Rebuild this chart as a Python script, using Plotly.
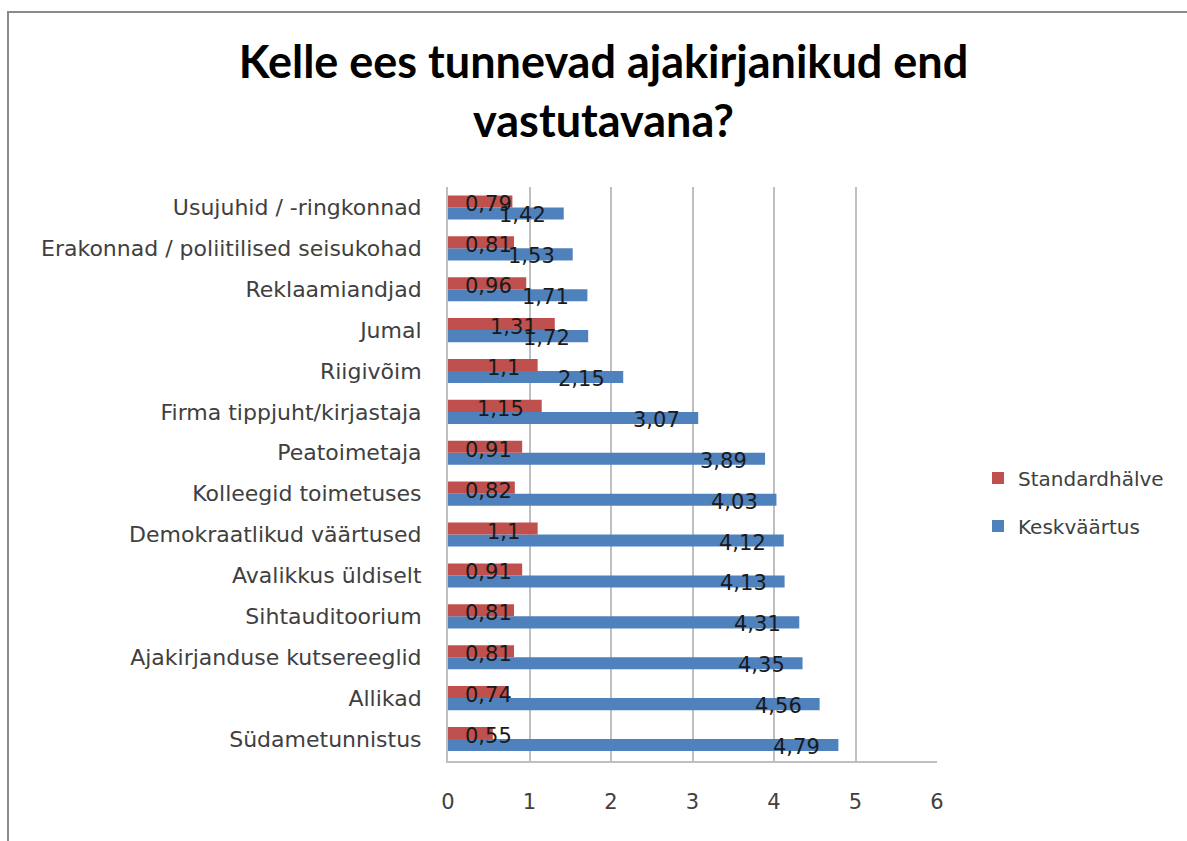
import plotly.graph_objects as go

categories = [
    "Südametunnistus",
    "Allikad",
    "Ajakirjanduse kutsereeglid",
    "Sihtauditoorium",
    "Avalikkus üldiselt",
    "Demokraatlikud väärtused",
    "Kolleegid toimetuses",
    "Peatoimetaja",
    "Firma tippjuht/kirjastaja",
    "Riigivõim",
    "Jumal",
    "Reklaamiandjad",
    "Erakonnad / poliitilised seisukohad",
    "Usujuhid / -ringkonnad",
]
keskvaartus = [4.79, 4.56, 4.35, 4.31, 4.13, 4.12, 4.03, 3.89, 3.07, 2.15, 1.72, 1.71, 1.53, 1.42]
standardhalve = [0.55, 0.74, 0.81, 0.81, 0.91, 1.1, 0.82, 0.91, 1.15, 1.1, 1.31, 0.96, 0.81, 0.79]
x_ticks = [0, 1, 2, 3, 4, 5, 6]

title_text = "Kelle ees tunnevad ajakirjanikud end<br>vastutavana?"

RED = "#C0504D"
BLUE = "#4F81BD"
GRID = "#BFBFBF"
TXT = "#404040"
FONT = "DejaVu Sans"

W, H = 1187, 841
ML, MR, MT, MB = 448, 250, 187, 80
PW, PH = W - ML - MR, H - MT - MB

def fmt(v):
    return f"{v:g}".replace(".", ",")

fig = go.Figure()
fig.add_trace(go.Bar(
    y=categories, x=keskvaartus, orientation="h", name="Keskväärtus",
    marker=dict(color=BLUE, line=dict(width=0)), legendgroup="b", legendrank=2,
    hoverinfo="x+y",
))
fig.add_trace(go.Bar(
    y=categories, x=standardhalve, orientation="h", name="Standardhälve",
    marker=dict(color=RED, line=dict(width=0)), legendgroup="a", legendrank=1,
    hoverinfo="x+y",
))

LABEL_MIN_X = 1.0
annotations = []
for cat, v in zip(categories, standardhalve):
    annotations.append(dict(
        x=max(v, LABEL_MIN_X), y=cat, xref="x", yref="y", text=fmt(v),
        showarrow=False, xanchor="right", yanchor="middle", xshift=-16, yshift=3,
        font=dict(family=FONT, size=21, color="#1a1a1a"),
    ))
for cat, v in zip(categories, keskvaartus):
    annotations.append(dict(
        x=max(v, LABEL_MIN_X), y=cat, xref="x", yref="y", text=fmt(v),
        showarrow=False, xanchor="right", yanchor="middle", xshift=-16, yshift=-8,
        font=dict(family=FONT, size=21, color="#1a1a1a"),
    ))

fig.update_layout(
    width=W, height=H,
    margin=dict(l=ML, r=MR, t=MT, b=MB, autoexpand=False),
    paper_bgcolor="white", plot_bgcolor="white",
    barmode="group", bargap=0.41, bargroupgap=0,
    title=dict(
        text=title_text, x=603.5 / W, xanchor="center", xref="container",
        y=1 - 78 / H, yanchor="middle", yref="container",
        font=dict(family="Lato", size=45, color="#000000", weight="bold"),
    ),
    xaxis=dict(
        range=[0, 6], tickvals=x_ticks, showgrid=True, gridcolor=GRID, gridwidth=2,
        showline=True, linecolor=GRID, linewidth=2, zeroline=False, ticks="",
        ticklabelstandoff=21, tickfont=dict(family=FONT, size=21, color=TXT),
        fixedrange=True,
    ),
    yaxis=dict(
        showline=True, linecolor=GRID, linewidth=2, ticks="", showgrid=False,
        ticklabelstandoff=20, tickfont=dict(family=FONT, size=22, color=TXT),
        automargin=False, fixedrange=True,
    ),
    legend=dict(
        x=(978 - ML) / PW, y=(PH - (502 - MT)) / PH, xanchor="left", yanchor="middle",
        traceorder="grouped", tracegroupgap=19,
        font=dict(family=FONT, size=20, color=TXT), bgcolor="rgba(0,0,0,0)",
    ),
    annotations=annotations,
    shapes=[dict(
        type="rect", xref="paper", yref="paper",
        x0=(8 - ML) / PW, x1=(W + 20 - ML) / PW,
        y0=(PH - (H + 20 - MT)) / PH, y1=(PH - (12 - MT)) / PH,
        line=dict(color="#8a8a8a", width=2), fillcolor="rgba(0,0,0,0)", layer="below",
    )],
)

fig.write_html("out.html", config={"displayModeBar": False},
               post_script="document.body.style.margin='0';")
